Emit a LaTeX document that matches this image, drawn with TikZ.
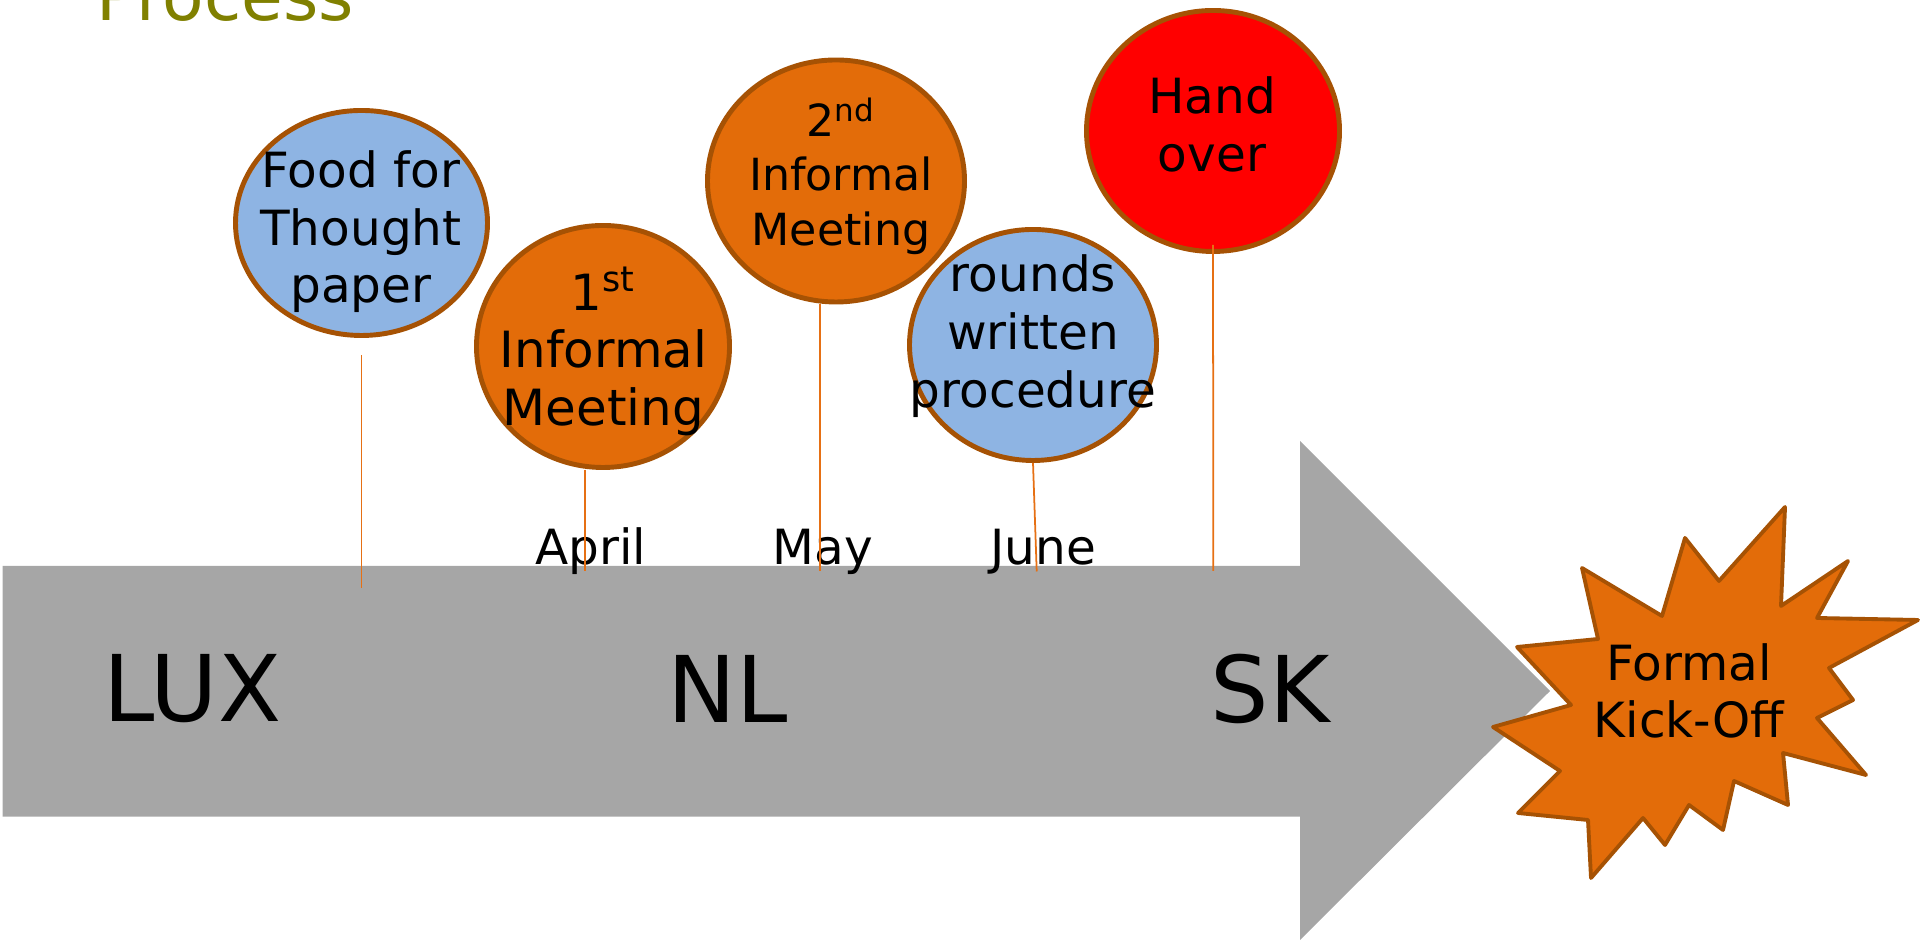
\documentclass[tikz,border=0pt]{standalone}
\usepackage{fontspec}
\setmainfont{DejaVu Sans}
\usetikzlibrary{shapes.geometric}
\definecolor{ffblue}{RGB}{142,180,227}
\definecolor{ffrust}{RGB}{166,82,4}
\definecolor{fforange}{RGB}{227,108,9}
\definecolor{ffstem}{RGB}{230,112,20}
\definecolor{ffgrey}{RGB}{166,166,166}
\definecolor{ffolive}{RGB}{128,128,0}
\tikzset{
  bubble/.style={ellipse, draw=ffrust, line width=1.4pt, inner sep=0pt},
  bubtext/.style={align=center, font=\fontsize{13.8}{16.4}\selectfont, inner sep=0pt},
  stem/.style={draw=ffstem, line width=0.5pt},
  country/.style={font=\fontsize{26.2}{30}\selectfont, inner sep=0pt},
  month/.style={font=\fontsize{13.8}{16}\selectfont, inner sep=0pt, anchor=base},
}
\begin{document}
\begin{tikzpicture}
        \useasboundingbox (0,0) rectangle (19.2,9.42);
        \clip (0,0) rectangle (19.2,9.42);
        %Title
            \node[anchor=base west, inner sep=0pt, text=ffolive, font=\fontsize{19.3}{23}\selectfont] (title) at (0.96,9.213) {Process};
        %Arrow
            \fill[ffgrey] (0.027,3.76) -- (13.0,3.76) -- (13.0,5.01) -- (15.5,2.51) -- (13.0,0.02) -- (13.0,1.253) -- (0.027,1.253) -- cycle;
        %Countries
        \foreach \n/\x/\t in {lux/1.925/LUX, nl/7.275/NL, sk/12.70/SK}
        {\node[country] (\n) at (\x,2.53) {\t};}
        %Months
        \foreach \n/\x/\t in {april/5.91/April, may/8.23/May, june/10.43/June}
        {\node[month] (\n) at (\x,3.775) {\t};}
        %Bubbles
            \node[bubble, fill=ffblue, minimum width=2.52cm, minimum height=2.25cm] (food) at (3.615,7.19) {};
            \node[bubble, fill=fforange, minimum width=2.53cm, minimum height=2.42cm] (first) at (6.03,5.955) {};
            \node[bubble, fill=fforange, minimum width=2.57cm, minimum height=2.42cm] (second) at (8.36,7.61) {};
            \node[bubble, fill=ffblue, minimum width=2.47cm, minimum height=2.31cm] (rounds) at (10.33,5.97) {};
            \node[bubble, fill=red, minimum width=2.53cm, minimum height=2.41cm] (hand) at (12.13,8.11) {};
            \node[bubtext] (foodT) at (3.61,7.10) {Food for\\Thought\\paper};
            \node[bubtext, font=\fontsize{14.2}{16.4}\selectfont] (firstT) at (6.035,5.905) {1\textsuperscript{st}\\Informal\\Meeting};
            \node[bubtext, font=\fontsize{12.6}{15.5}\selectfont] (secondT) at (8.41,7.66) {2\textsuperscript{nd}\\Informal\\Meeting};
            \node[bubtext] (roundsT) at (10.33,6.06) {rounds\\written\\procedure};
            \node[bubtext] (handT) at (12.12,8.175) {Hand\\over};
        %Stems
            \coordinate (sFood) at (3.615,3.54);
            \coordinate (sApril) at (5.853,3.71);
            \coordinate (sMay) at (8.20,3.71);
            \coordinate (sJune) at (10.367,3.705);
            \coordinate (sSK) at (12.133,3.71);
            \draw[stem] ([yshift=-0.175cm]food.south) -- (sFood);
            \draw[stem] (sApril |- first.south) -- (sApril);
            \draw[stem] (sMay |- second.south) -- (sMay);
            \draw[stem] (rounds.south) -- (sJune);
            \draw[stem] ([yshift=0.09cm]hand.south) -- (sSK);
        %Kick-off star
            \filldraw[fill=fforange, draw=ffrust, line width=1.1pt, line join=round]
            (15.17,2.95) -- (15.98,3.03) -- (15.82,3.74) -- (16.62,3.26) -- (16.85,4.04) -- (17.19,3.61) -- (17.85,4.35) -- (17.81,3.36) -- (18.48,3.81) -- (18.17,3.24) -- (19.18,3.22) -- (18.29,2.74) -- (18.53,2.42) -- (18.17,2.24) -- (18.66,1.67) -- (17.83,1.89) -- (17.88,1.37) -- (17.34,1.61) -- (17.23,1.12) -- (16.89,1.37) -- (16.65,0.97) -- (16.43,1.24) -- (15.91,0.64) -- (15.88,1.22) -- (15.18,1.29) -- (15.60,1.71) -- (14.93,2.15) -- (15.71,2.37) -- cycle;
            \node[bubtext] (kickoff) at (16.89,2.51) {Formal\\Kick-Off};
        \end{tikzpicture}
\end{document}
